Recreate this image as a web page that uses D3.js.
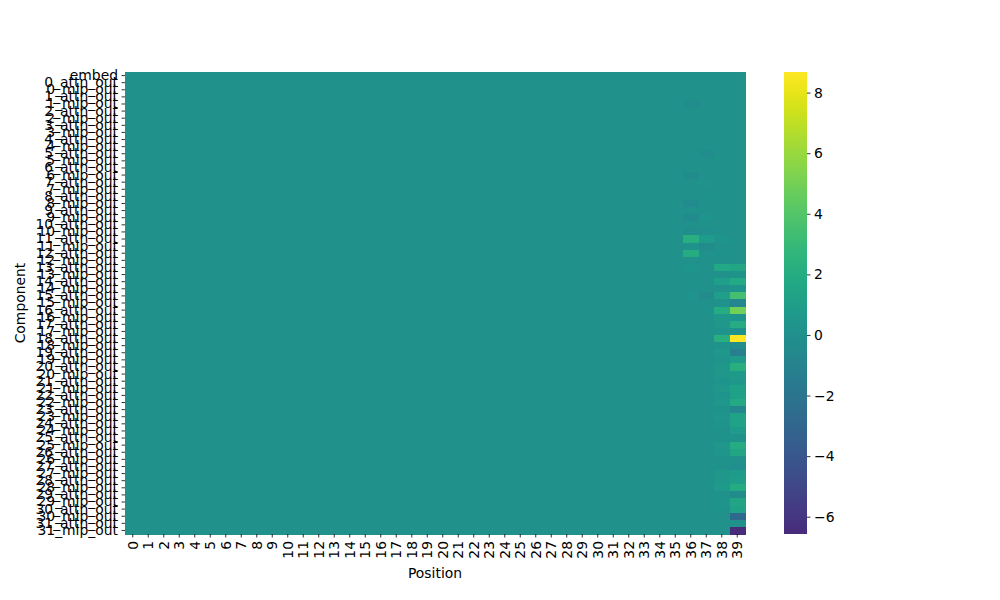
<!DOCTYPE html>
<html>
<head>
<meta charset="utf-8">
<script src="https://cdn.jsdelivr.net/npm/d3@7"></script>
<style>
  body { margin: 0; background: #fff; }
  svg { font-family: "DejaVu Sans", sans-serif; }
</style>
</head>
<body>
<svg id="chart" width="1000" height="600"></svg>
<script>
// ---- Data ----
const layers = d3.range(32);
const components = ["embed"].concat(...layers.map(l => [l + "_attn_out", l + "_mlp_out"]));
const positions = d3.range(40);

// Non-zero columns (values per component row, 65 each); other positions are ~0
const pos36 = [0,0,0,0,-0.15,0,0,0,0,0,0,0,0,0,-0.3,0,0,0,-0.35,0,-0.4,0,-0.2,2.3,0.1,2.0,0,0.3,0,0.2,0,0.3,0,0,0,0,0,0,0,0,0,0,0,0,0,0,0,0,0,0,0,0,0,0,0,0,0,0,0,0,0,0,0,0,0];
const pos37 = [0,0,0,0,0,0,0,0,0,0,0,-0.2,0,0,0,0.25,0,0.2,0,0,0.3,0,-0.1,0.8,-0.3,0,0,0,0,0,0,-0.3,0,0.1,0,0,0,0,0,0,0,0,0,0,0,0,0,0,0,0,0,0,0,0,0,0,0,0,0,0,0,0,0,0,0];
const pos38 = [0,0,0,0,0,0,0,0,0,0,0,0,0,0,0,0,0,0,0,0,0,0,0,0.3,0,0.1,0,1.7,0,1.0,0,1.0,0,2.0,0.5,0.5,0.3,2.3,0.2,0.5,0.3,0.5,0.5,0.3,0.5,0.3,0.5,0.2,0.4,0.3,0.2,0.2,0.6,0.4,0.2,0.2,0.5,0.5,0.7,0.1,0.3,0.2,0,0,0];
const pos39 = [0,0,0,0,0,0,0,0,0,0,0,0,0,0,0,0,0,0,0,0,0,0,0,0,0,0,0,1.5,0.2,1.8,0.3,3.5,-0.7,5.0,0.3,2.0,0.2,8.68,-0.2,-1.2,0.8,2.3,0.7,0.5,1.2,1.2,1.8,-0.6,1.3,1.3,0.8,0.2,2.0,1.5,0,-0.1,0.8,1.0,1.9,-0.3,1.5,1.3,-2.8,0,-6.57];
const colorbarTicks = [-6, -4, -2, 0, 2, 4, 6, 8];

(function () {
const special = {36: pos36, 37: pos37, 38: pos38, 39: pos39};
const cells = [];
components.forEach((c, i) => {
  positions.forEach(p => {
    cells.push({comp: c, pos: p, value: special[p] ? special[p][i] : 0});
  });
});

// ---- Layout ----
const svg = d3.select("#chart");
const mLeft = 125, mRight = 745, mTop = 72, mBottom = 534;

const x = d3.scaleBand().domain(positions).range([mLeft, mRight]).padding(0);
const y = d3.scaleBand().domain(components).range([mTop, mBottom]).padding(0);
const ext = d3.extent(cells, d => d.value);
// colormap centred on 0 (symmetric range), only the used part is shown
const vr = Math.max(Math.abs(ext[0]), Math.abs(ext[1]));
const color = d3.scaleSequential(d3.interpolateViridis).domain([-vr, vr]);

svg.append("g").attr("shape-rendering", "crispEdges")
  .selectAll("rect").data(cells).join("rect")
  .attr("x", d => x(d.pos))
  .attr("y", d => y(d.comp))
  .attr("width", x.bandwidth() + 0.5)
  .attr("height", y.bandwidth() + 0.5)
  .attr("fill", d => color(d.value));

const fontSize = "13.9px";

// X axis
const xAxis = svg.append("g").attr("transform", `translate(0,${mBottom})`)
  .call(d3.axisBottom(x).tickSize(3.5).tickPadding(3.5));
xAxis.select(".domain").remove();
xAxis.selectAll("line").attr("stroke", "#000").attr("stroke-width", 0.8);
xAxis.selectAll("text")
  .attr("font-size", fontSize).attr("fill", "#000")
  .attr("font-family", "DejaVu Sans")
  .attr("transform", "rotate(-90)")
  .attr("text-anchor", "end")
  .attr("x", -7).attr("y", 0).attr("dy", "0.35em");

// Y axis
const yAxis = svg.append("g").attr("transform", `translate(${mLeft},0)`)
  .call(d3.axisLeft(y).tickSize(3.5).tickPadding(3.5));
yAxis.select(".domain").remove();
yAxis.selectAll("line").attr("stroke", "#000").attr("stroke-width", 0.8);
yAxis.selectAll("text").attr("font-size", fontSize).attr("fill", "#000")
  .attr("font-family", "DejaVu Sans");

// Axis labels
svg.append("text").attr("x", (mLeft + mRight) / 2).attr("y", 578)
  .attr("text-anchor", "middle").attr("font-size", fontSize).text("Position");
svg.append("text").attr("transform", `translate(25,${(mTop + mBottom) / 2}) rotate(-90)`)
  .attr("text-anchor", "middle").attr("font-size", fontSize).text("Component");

// Colorbar
const cbX = 784, cbW = 23;
const cbScale = d3.scaleLinear().domain(ext).range([mBottom, mTop]);
const defs = svg.append("defs");
const grad = defs.append("linearGradient").attr("id", "cbgrad")
  .attr("x1", 0).attr("y1", 1).attr("x2", 0).attr("y2", 0);
d3.range(0, 1.0001, 0.02).forEach(t => {
  grad.append("stop").attr("offset", t)
    .attr("stop-color", color(ext[0] + t * (ext[1] - ext[0])));
});
svg.append("rect").attr("x", cbX).attr("y", mTop).attr("width", cbW)
  .attr("height", mBottom - mTop).attr("fill", "url(#cbgrad)");
const cbAxis = svg.append("g").attr("transform", `translate(${cbX + cbW},0)`)
  .call(d3.axisRight(cbScale).tickValues(colorbarTicks).tickSize(3.5).tickPadding(3.5)
    .tickFormat(d => d < 0 ? "\u2212" + Math.abs(d) : String(d)));
cbAxis.select(".domain").remove();
cbAxis.selectAll("line").attr("stroke", "#000").attr("stroke-width", 0.8);
cbAxis.selectAll("text").attr("font-size", fontSize).attr("fill", "#000")
  .attr("font-family", "DejaVu Sans");
})();
</script>
</body>
</html>
